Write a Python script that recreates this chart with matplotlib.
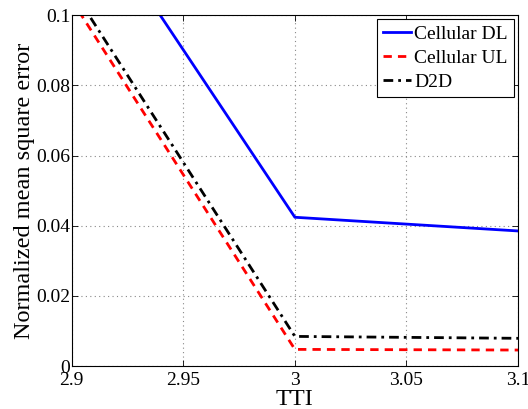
import matplotlib
matplotlib.use("Agg")
import matplotlib.pyplot as plt

# Normalized MSE per TTI for each link type
tti = [2, 3, 4]
cellular_dl = [0.996, 0.0424, 0.0034]
cellular_ul = [1.0, 0.00475, 0.0029]
d2d = [1.0, 0.00845, 0.0030]

x_ticks = [2.9, 2.95, 3.0, 3.05, 3.1]
x_tick_labels = ["2.9", "2.95", "3", "3.05", "3.1"]
y_ticks = [0, 0.02, 0.04, 0.06, 0.08, 0.1]
y_tick_labels = ["0", "0.02", "0.04", "0.06", "0.08", "0.1"]

plt.rcParams["font.family"] = ["Liberation Serif", "DejaVu Serif"]
plt.rcParams["font.size"] = 14

fig = plt.figure(figsize=(5.28, 4.09), dpi=100)
ax = fig.add_axes([0.136, 0.105, 0.845, 0.858])

ax.plot(tti, cellular_dl, color="#0000ff", lw=2.0, ls="-", label="Cellular DL")
ax.plot(tti, cellular_ul, color="#ff0000", lw=2.0, ls=(0, (3, 2.2)), label="Cellular UL")
ax.plot(tti, d2d, color="black", lw=2.0, ls=(0, (3.5, 1.8, 1, 1.8)), label="D2D")

ax.set_xlim(2.9, 3.1)
ax.set_ylim(0, 0.1)
ax.set_xticks(x_ticks)
ax.set_xticklabels(x_tick_labels)
ax.set_yticks(y_ticks)
ax.set_yticklabels(y_tick_labels)
ax.tick_params(direction="in", top=True, right=True, length=4, width=0.6,
               pad=1, labelsize=14)
ax.tick_params(axis="x", pad=4)
ax.grid(True, color="#888888", ls=(0, (1, 3)), lw=0.8)
for s in ax.spines.values():
    s.set_linewidth(0.8)

ax.set_xlabel("TTI", fontsize=17.5, labelpad=0)
ax.set_ylabel("Normalized mean square error", fontsize=17.5, labelpad=1)

leg = ax.legend(loc="upper right", fancybox=False, edgecolor="black",
                framealpha=1, handlelength=1.45, handletextpad=0.15,
                borderpad=0.3, labelspacing=0.33, borderaxespad=0.22,
                fontsize=14)
leg.get_frame().set_linewidth(0.8)

fig.savefig("out.png", dpi=100)
